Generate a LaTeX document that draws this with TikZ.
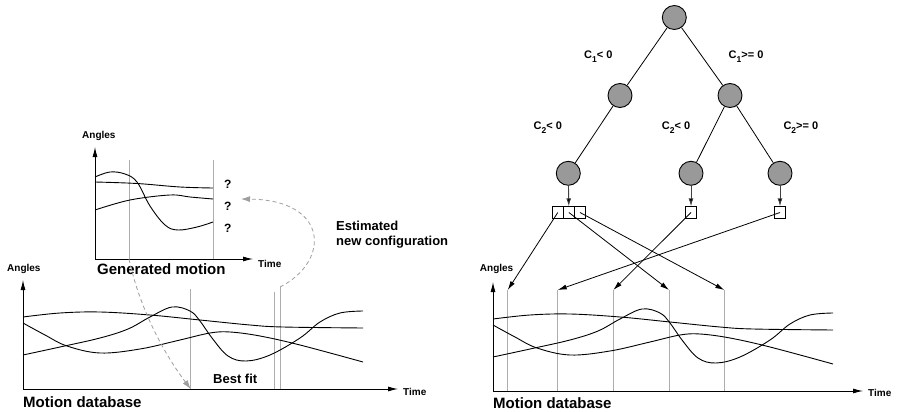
\documentclass[tikz,border=0pt]{standalone}
\usepackage{fontspec}
\setmainfont{Liberation Sans}
\usetikzlibrary{arrows.meta}
\definecolor{nodefill}{gray}{0.6}
\definecolor{markgray}{gray}{0.68}
\definecolor{dashgray}{gray}{0.62}
\newcommand{\dbcurves}{%
  \draw[curve] plot[smooth, tension=0.6] coordinates {(23,317) (60,313) (100,312) (150,315) (200,320) (250,325) (283,327) (363,328)};
  \draw[curve] plot[smooth, tension=0.6] coordinates {(23,323) (45,335) (67,346) (100,353) (140,349) (180,340) (210,333) (230,332) (260,336) (300,345) (363,362)};
  \draw[curve] plot[smooth, tension=0.6] coordinates {(23,355) (60,347) (100,338) (128,329) (150,317) (172,307) (190,311) (200,321) (212,338) (228,356) (246,361) (270,355) (300,338) (320,322) (340,313) (363,311)};
}
\begin{document}
\begin{tikzpicture}[x=1pt,y=-1pt,
  lbl/.style={font=\bfseries\fontsize{10}{12}\selectfont, inner sep=0pt},
  mid/.style={font=\bfseries\fontsize{13}{15}\selectfont, inner sep=0pt},
  title/.style={font=\bfseries\fontsize{15}{18}\selectfont, inner sep=0pt},
  cond/.style={font=\bfseries\fontsize{11}{13}\selectfont, inner sep=0pt, anchor=base west},
  axis/.style={line width=0.9pt, -{Latex[length=10pt,width=5pt]}},
  curve/.style={line width=0.9pt},
  marker/.style={draw=markgray, line width=1pt},
  est/.style={draw=dashgray, dash pattern=on 4pt off 3pt, line width=0.8pt, -{Latex[length=9pt,width=6pt,fill=dashgray]}},
  tnode/.style={circle, draw, line width=0.9pt, fill=nodefill, minimum size=24pt, inner sep=0pt},
  tbox/.style={draw, line width=0.8pt, minimum width=11pt, minimum height=11.6pt, inner sep=0pt},
  tedge/.style={line width=0.8pt},
  tarrow/.style={draw=black!75, line width=0.9pt, -{Latex[length=8pt,width=5pt,fill=black]}},
  conn/.style={line width=0.8pt, -{Latex[length=9pt,width=5pt]}}
]
\useasboundingbox (0,0) rectangle (900,412);

% ---------- Generated motion ----------
\coordinate (g-o) at (95,259);
\coordinate (g-y) at (95,147);
\coordinate (g-x) at (253,259);
\coordinate (g-m1t) at (129,160);
\coordinate (g-m1b) at (129,259);
\coordinate (g-m2t) at (213,160);
\coordinate (g-m2b) at (213,259);
\draw[marker] (g-m1t) -- (g-m1b);
\draw[marker] (g-m2t) -- (g-m2b);
\draw[curve] plot[smooth, tension=0.6] coordinates {(95,182) (137,183.5) (180,187) (213,188)};
\draw[curve] plot[smooth, tension=0.6] coordinates {(95,177) (110,172) (125,174) (137,182) (150,206) (165,225) (178,230) (197,227) (213,222)};
\draw[curve] plot[smooth, tension=0.6] coordinates {(95,210) (130,200) (170,195) (190,197) (213,199)};
\draw[axis] (g-o) -- (g-y);
\draw[axis] (g-o) -- (g-x);
\node[lbl, anchor=base west] (g-ang) at (82,139) {Angles};
\node[lbl, anchor=base west] (g-time) at (258,267) {Time};
\node[title, anchor=base west] (g-title) at (97,274) {Generated motion};
\node[font=\bfseries\fontsize{12}{14}\selectfont, inner sep=0pt, anchor=base west] (q1) at (224,188.5) {?};
\node[font=\bfseries\fontsize{12}{14}\selectfont, inner sep=0pt, anchor=base west] (q2) at (224,210.8) {?};
\node[font=\bfseries\fontsize{12}{14}\selectfont, inner sep=0pt, anchor=base west] (q3) at (224,232.8) {?};

% ---------- Left motion database ----------
\coordinate (l-o) at (23,389);
\coordinate (l-y) at (23,280);
\coordinate (l-x) at (398,389);
\coordinate (l-m1t) at (190.7,289);
\coordinate (l-m1b) at (190.7,389);
\coordinate (l-m2t) at (274.3,291.7);
\coordinate (l-m2b) at (274.3,389);
\coordinate (l-m3t) at (280,287);
\coordinate (l-m3b) at (280,389);
\draw[marker] (l-m1t) -- (l-m1b);
\draw[marker] (l-m2t) -- (l-m2b);
\draw[marker] (l-m3t) -- (l-m3b);
\dbcurves
\draw[axis] (l-o) -- (l-y);
\draw[axis] (l-o) -- (l-x);
\node[lbl, anchor=base west] (l-ang) at (7,271) {Angles};
\node[lbl, anchor=base west] (l-time) at (403,395) {Time};
\node[title, anchor=base west] (l-title) at (23,407) {Motion database};
\node[mid, anchor=base west] (bestfit) at (213,383) {Best fit};
\node[mid, anchor=base west, align=left] (estlbl) at (336,245) {Estimated\\new configuration};

% dashed arrows
\coordinate (q-tip) at (241,199);
\draw[est] (l-m3t) .. controls (330,262) and (330,200) .. (q-tip);
\draw[est] (g-m1b) .. controls (140,310) and (165,355) .. (l-m1b);

% ---------- Right motion database ----------
\coordinate (r-o) at (493,391);
\coordinate (r-y) at (493,282);
\coordinate (r-x) at (863,391);
\coordinate (r-t1) at (507.7,290);
\coordinate (r-t2) at (557.7,290);
\coordinate (r-t3) at (613.3,290);
\coordinate (r-t4) at (669,290);
\coordinate (r-t5) at (724.3,290);
\foreach \i/\xx in {1/507.7,2/557.7,3/613.3,4/669,5/724.3}{
  \coordinate (r-b\i) at (\xx,391);
  \draw[marker] (r-t\i) -- (r-b\i);
}
\begin{scope}[shift={(470,2)}]
\dbcurves
\end{scope}
\draw[axis] (r-o) -- (r-y);
\draw[axis] (r-o) -- (r-x);
\node[lbl, anchor=base east] (r-ang) at (513.5,271.5) {Angles};
\node[lbl, anchor=base west] (r-time) at (868,396) {Time};
\node[title, anchor=base west] (r-title) at (493,408) {Motion database};

% ---------- Tree ----------
\node[tnode] (root) at (674.3,17.5) {};
\node[tnode] (n2a) at (620,95.5) {};
\node[tnode] (n2b) at (730,95.5) {};
\node[tnode] (n3a) at (568.3,173.3) {};
\node[tnode] (n3b) at (691,173.3) {};
\node[tnode] (n3c) at (780,173.3) {};
\draw[tedge] (root) -- (n2a);
\draw[tedge] (root) -- (n2b);
\draw[tedge] (n2a) -- (n3a);
\draw[tedge] (n2b) -- (n3b);
\draw[tedge] (n2b) -- (n3c);

\node[cond] (c1a) at (584,59) {C\raisebox{-4pt}{\fontsize{8.5}{10}\selectfont 1}< 0};
\node[cond] (c1b) at (728.5,59) {C\raisebox{-4pt}{\fontsize{8.5}{10}\selectfont 1}>= 0};
\node[cond] (c2a) at (533.5,129.3) {C\raisebox{-4pt}{\fontsize{8.5}{10}\selectfont 2}< 0};
\node[cond] (c2b) at (661.7,129.3) {C\raisebox{-4pt}{\fontsize{8.5}{10}\selectfont 2}< 0};
\node[cond] (c2c) at (783.3,129.3) {C\raisebox{-4pt}{\fontsize{8.5}{10}\selectfont 2}>= 0};

\node[tbox] (ba) at (557.8,212.5) {};
\node[tbox] (bb) at (568.9,212.5) {};
\node[tbox] (bc) at (580,212.5) {};
\node[tbox] (bd) at (691,212.5) {};
\node[tbox] (be) at (780,212.5) {};

\draw[tarrow] (n3a) -- (bb);
\draw[tarrow] (n3b) -- (bd);
\draw[tarrow] (n3c) -- (be);

\draw[conn] (ba.center) -- (r-t1);
\draw[conn] (bb.center) -- (r-t4);
\draw[conn] (bc.center) -- (r-t5);
\draw[conn] (bd.center) -- (r-t3);
\draw[conn] (be.center) -- (r-t2);
\end{tikzpicture}
\end{document}
